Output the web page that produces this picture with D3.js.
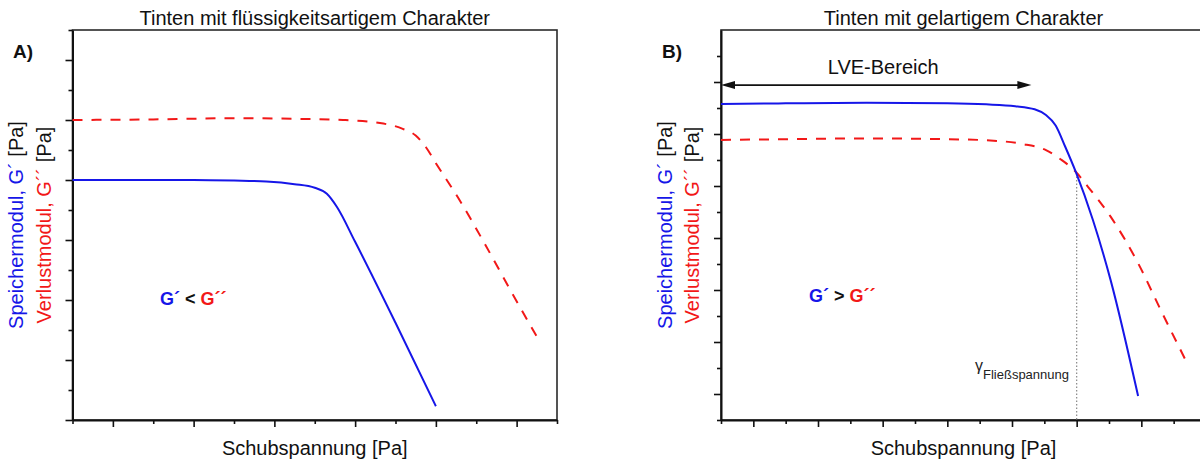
<!DOCTYPE html>
<html>
<head>
<meta charset="utf-8">
<script src="https://cdn.jsdelivr.net/npm/d3@7"></script>
<style>
  html, body { margin: 0; padding: 0; background: #fff; }
  svg { display: block; font-family: "Liberation Sans", Arial, Helvetica, sans-serif; }
</style>
</head>
<body>
<svg id="chart" width="1200" height="461"></svg>
<script>
// ---------- Data ----------
// Panel A: liquid-like inks (G' < G'')
const gStorageA = [[0,4.0],[2,4.0],[3,4.0],[4,3.99],[4.8,3.975],[5.5,3.93],[6.0,3.87],[6.3,3.77],[6.55,3.55],[7.0,2.97],[8.0,1.62],[9.0,0.23]];
const gLossA    = [[0,5.0],[2,5.01],[4,5.03],[5.5,5.02],[6.7,5.0],[7.7,4.94],[8.15,4.86],[8.5,4.74],[8.75,4.55],[9.0,4.28],[9.6,3.65],[10.2,2.95],[10.8,2.22],[11.55,1.33]];
// Panel B: gel-like inks (G' > G'')
const gStorageB = [[0,12.15],[2,12.18],[4.5,12.2],[7,12.18],[8.2,12.14],[9.1,12.07],[9.7,11.95],[10.05,11.73],[10.35,11.33],[10.65,10.5],[10.97,9.55],[11.5,7.7],[12.05,5.38],[12.9,0.92]];
const gLossB    = [[0,10.77],[2,10.8],[4.5,10.83],[7,10.8],[8.2,10.76],[9.3,10.62],[10.05,10.38],[10.5,10.03],[10.97,9.55],[11.35,8.97],[12.05,7.82],[12.9,6.03],[13.6,4.23],[14.35,2.35]];

// Tick positions (no labels in the original)
const xMajorA = [1,3,5,7,9,11];
const xMinorA = [0,2,4,6,8,10,12];
const yMajorA = [0,1,2,3,4,5,6];
const yMinorA = [0.5,1.5,2.5,3.5,4.5,5.5,6.5];
const xMajorB = [1,3,5,7,9,11,13,15];
const xMinorB = [0,2,4,6,8,10,12,14];
const yMajorB = [1,3,5,7,9,11,13];
const yMinorB = [0,2,4,6,8,10,12,14];

// Annotations (data units)
const lveRange = [0, 9.6];
const lveLevel = 12.88;
const yieldX = 11.0;
const yieldY = 9.5;

// Texts
const titles = ["Tinten mit flüssigkeitsartigem Charakter", "Tinten mit gelartigem Charakter"];
const panelLetters = ["A)", "B)"];
const xLabel = "Schubspannung [Pa]";

// ---------- Drawing ----------
const svg = d3.select("#chart");
const BLUE = "#1616e8", RED = "#f21818";

const panels = [
  { left: 72.5, right: 557, top: 30, bottom: 420, xd: [0,12], yd: [0,6.5],
    xMaj: xMajorA, xMin: xMinorA, yMaj: yMajorA, yMin: yMinorA,
    gs: gStorageA, gl: gLossA, title: titles[0], letter: panelLetters[0],
    letterX: 13, ylabX: [16, 44], relText: "<", relX: 160, relY: 305 },
  { left: 721, right: 1206, top: 30, bottom: 420, xd: [0,15], yd: [0,15],
    xMaj: xMajorB, xMin: xMinorB, yMaj: yMajorB, yMin: yMinorB,
    gs: gStorageB, gl: gLossB, title: titles[1], letter: panelLetters[1],
    letterX: 662, ylabX: [665, 692], relText: ">", relX: 809, relY: 302 }
];

panels.forEach((p, i) => {
  const x = d3.scaleLinear().domain(p.xd).range([p.left, p.right]);
  const y = d3.scaleLinear().domain(p.yd).range([p.bottom, p.top]);
  const g = svg.append("g");

  // frame (top/right)
  g.append("rect")
    .attr("x", p.left).attr("y", p.top)
    .attr("width", p.right - p.left).attr("height", p.bottom - p.top)
    .attr("fill", "none").attr("stroke", "#2a2a2a").attr("stroke-width", 1.6);

  // axes
  const axStyle = sel => { sel.selectAll("path").attr("stroke", "#111").attr("stroke-width", 2);
                           sel.selectAll("line").attr("stroke", "#111").attr("stroke-width", 1.6); };
  g.append("g").attr("transform", `translate(0,${p.bottom})`)
    .call(d3.axisBottom(x).tickValues(p.xMaj).tickSize(7).tickSizeOuter(0).tickFormat(""))
    .call(axStyle);
  g.append("g").attr("transform", `translate(0,${p.bottom})`)
    .call(d3.axisBottom(x).tickValues(p.xMin).tickSize(4).tickSizeOuter(0).tickFormat(""))
    .call(s => s.select(".domain").remove()).call(axStyle);
  g.append("g").attr("transform", `translate(${p.left},0)`)
    .call(d3.axisLeft(y).tickValues(p.yMaj).tickSize(7).tickSizeOuter(0).tickFormat(""))
    .call(axStyle);
  g.append("g").attr("transform", `translate(${p.left},0)`)
    .call(d3.axisLeft(y).tickValues(p.yMin).tickSize(4).tickSizeOuter(0).tickFormat(""))
    .call(s => s.select(".domain").remove()).call(axStyle);

  const line = d3.line().x(d => x(d[0])).y(d => y(d[1])).curve(d3.curveMonotoneX);

  // yield stress guide (panel B)
  if (i === 1) {
    g.append("line")
      .attr("x1", x(yieldX)).attr("x2", x(yieldX))
      .attr("y1", y(yieldY)).attr("y2", y(0))
      .attr("stroke", "#888").attr("stroke-width", 1.2).attr("stroke-dasharray", "1.5,2");
  }

  g.append("path").datum(p.gl).attr("d", line)
    .attr("fill", "none").attr("stroke", RED).attr("stroke-width", 2)
    .attr("stroke-dasharray", "10,9");
  g.append("path").datum(p.gs).attr("d", line)
    .attr("fill", "none").attr("stroke", BLUE).attr("stroke-width", 2);

  // title
  svg.append("text").attr("x", (p.left + p.right) / 2).attr("y", 25)
    .attr("text-anchor", "middle").attr("font-size", 20).attr("fill", "#111").text(p.title);
  // panel letter
  svg.append("text").attr("x", p.letterX).attr("y", 58)
    .attr("font-size", 19).attr("font-weight", "bold").attr("fill", "#111").text(p.letter);
  // x label
  svg.append("text").attr("x", (p.left + p.right) / 2).attr("y", 455)
    .attr("text-anchor", "middle").attr("font-size", 20).attr("fill", "#111").text(xLabel);

  // y labels (rotated)
  const cy = (p.top + p.bottom) / 2;
  const t1 = svg.append("text").attr("transform", `translate(${p.ylabX[0]},${cy}) rotate(-90)`)
    .attr("text-anchor", "middle").attr("dominant-baseline", "central").attr("font-size", 20);
  t1.append("tspan").attr("fill", BLUE).text("Speichermodul, G\u00B4");
  t1.append("tspan").attr("fill", "#111").text(" [Pa]");
  const t2 = svg.append("text").attr("transform", `translate(${p.ylabX[1]},${cy}) rotate(-90)`)
    .attr("text-anchor", "middle").attr("dominant-baseline", "central").attr("font-size", 20);
  t2.append("tspan").attr("fill", RED).text("Verlustmodul, G\u00B4\u00B4");
  t2.append("tspan").attr("fill", "#111").text(" [Pa]");

  // relation text
  const r = svg.append("text").attr("x", p.relX).attr("y", p.relY)
    .attr("font-size", 18).attr("font-weight", "bold");
  r.append("tspan").attr("fill", BLUE).text("G\u00B4 ");
  r.append("tspan").attr("fill", "#111").text(p.relText);
  r.append("tspan").attr("fill", RED).text(" G\u00B4\u00B4");

  if (i === 1) {
    // LVE arrow
    const ay = y(lveLevel), ax0 = x(lveRange[0]), ax1 = x(lveRange[1]);
    g.append("line").attr("x1", ax0 + 10).attr("x2", ax1 - 10).attr("y1", ay).attr("y2", ay)
      .attr("stroke", "#111").attr("stroke-width", 1.6);
    g.append("path").attr("d", `M${ax0},${ay} L${ax0 + 14},${ay - 4} L${ax0 + 14},${ay + 4} Z`).attr("fill", "#111");
    g.append("path").attr("d", `M${ax1},${ay} L${ax1 - 14},${ay - 4} L${ax1 - 14},${ay + 4} Z`).attr("fill", "#111");
    svg.append("text").attr("x", (ax0 + ax1) / 2 + 7).attr("y", 74).attr("text-anchor", "middle")
      .attr("font-size", 20).attr("fill", "#111").text("LVE-Bereich");
    // yield label
    const yl = svg.append("text").attr("x", 975).attr("y", 371).attr("fill", "#222");
    yl.append("tspan").attr("font-size", 16).text("\u03B3");
    yl.append("tspan").attr("font-size", 13).attr("dy", 8).text("Fließspannung");
  }
});
</script>
</body>
</html>
